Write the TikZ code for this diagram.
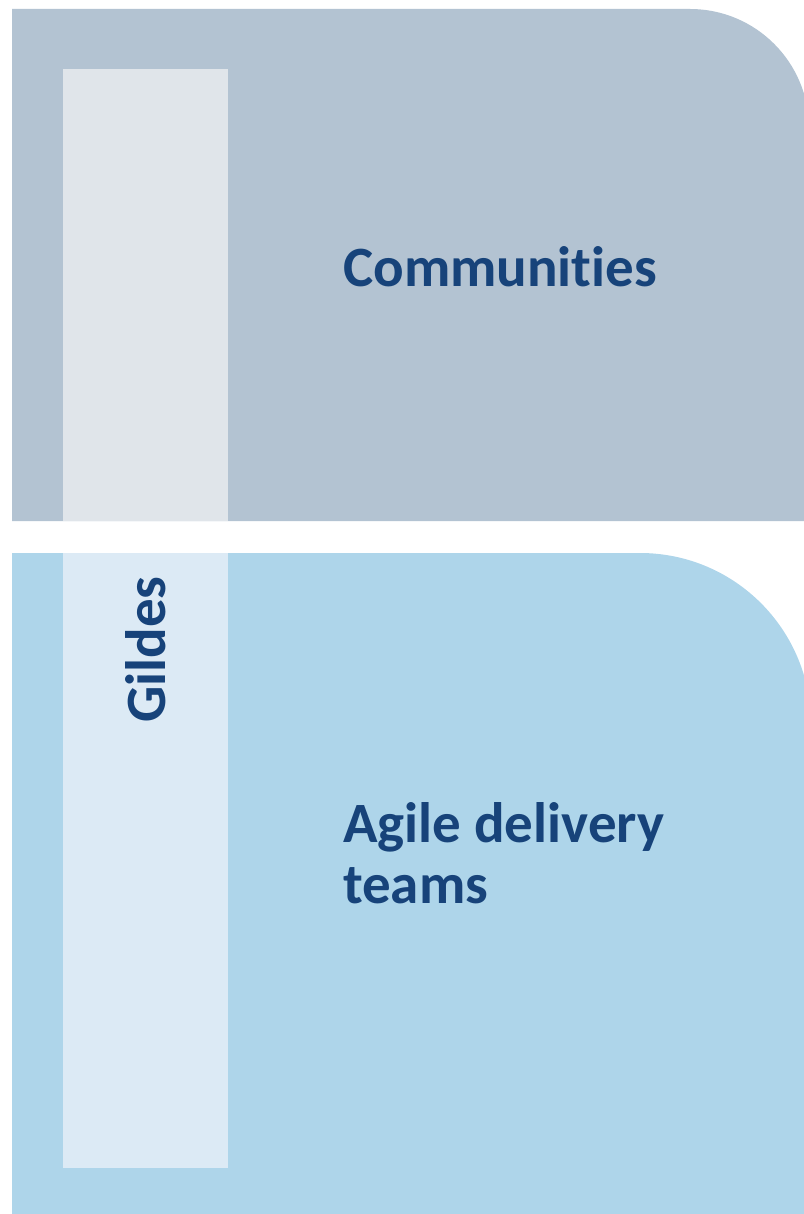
\documentclass[tikz,border=0pt]{standalone}
\usepackage{fontspec}
\setmainfont{Carlito}[Ligatures=CommonOff]
\definecolor{commGrey}{HTML}{B3C3D2}
\definecolor{gildeGrey}{HTML}{E0E5EA}
\definecolor{teamBlue}{HTML}{AED5EA}
\definecolor{gildeBlue}{HTML}{DCEAF5}
\definecolor{labelBlue}{HTML}{17437A}
\tikzset{
  label/.style = {inner sep=0pt, text=labelBlue, font=\fontsize{57}{61}\selectfont\bfseries},
  band/.style  = {draw=none}
}
\begin{document}
\begin{tikzpicture}[x=1pt, y=-1pt]
  \useasboundingbox (0,0) rectangle (803,1214);

  % layers
  \fill[band, commGrey] (12,521) -- (12,9) [rounded corners=119pt] -- (809,9)
        [sharp corners] -- (809,521) -- cycle;
  \fill[band, teamBlue] (12,1214) -- (12,553) [rounded corners=171pt] -- (811,553)
        [sharp corners] -- (811,1214) -- cycle;

  % guild strip
  \fill[band, gildeGrey] (63,69) rectangle (228,521);
  \fill[band, gildeBlue] (63,553) rectangle (228,1168);

  \node[label, anchor=base west] (communities) at (343,287) {Communities};
  \node[label, anchor=base west, align=left] (teams) at (343,903)
        {Agile delivery\\teams};
  \node[label, anchor=base west, rotate=90] (gildes) at (165,723) {Gildes};
\end{tikzpicture}
\end{document}
